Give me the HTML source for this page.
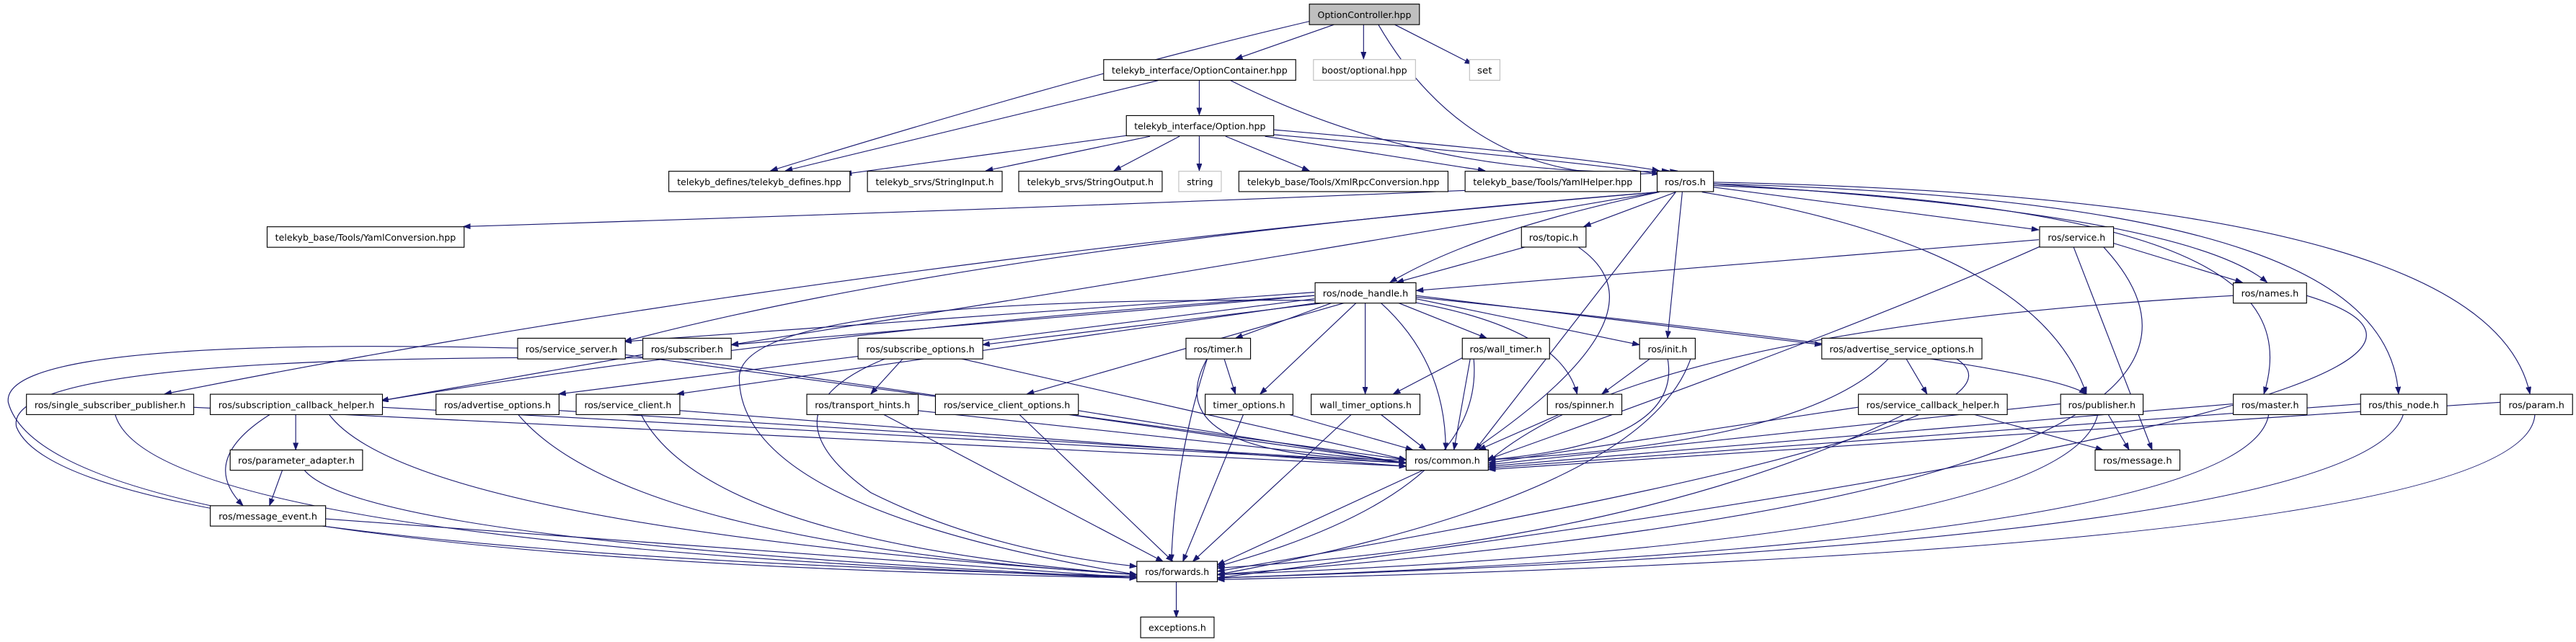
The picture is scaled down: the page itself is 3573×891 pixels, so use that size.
<!DOCTYPE html>
<html><head><meta charset="utf-8"><style>
html,body{margin:0;padding:0;background:#fff;}
svg{display:block;}
text{font-family:"DejaVu Sans","Liberation Sans",sans-serif;font-size:5.6px;fill:#000;}
.e{fill:none;stroke:#191970;stroke-width:0.5;marker-end:url(#a);}
.n{fill:#fff;stroke:#000;stroke-width:0.5;}
.g{fill:#fff;stroke:#bfbfbf;stroke-width:0.5;}
</style></head><body>
<svg width="3573" height="891" viewBox="0 0 1568 391" preserveAspectRatio="none" xmlns="http://www.w3.org/2000/svg">
<defs><marker id="a" markerUnits="userSpaceOnUse" markerWidth="5" markerHeight="4" refX="4.4" refY="1.6" orient="auto"><path d="M0,0 L4.4,1.6 L0,3.2 z" fill="#191970" stroke="#191970" stroke-width="0.3"/></marker></defs>
<g>
<path class="e" d="M812,15 L752,36"/>
<path class="e" d="M830,15 L830,36"/>
<path class="e" d="M849,15 L896,39"/>
<path class="e" d="M839,15 Q900,120 1021,104"/>
<path class="e" d="M797,13 Q660,45 469,104"/>
<path class="e" d="M730,49 L730,70"/>
<path class="e" d="M705,49 L478,104"/>
<path class="e" d="M749,49 Q870,110 1016,104"/>
<path class="e" d="M690,82 L514,106"/>
<path class="e" d="M700,83 L600,104"/>
<path class="e" d="M718,83 L678,104"/>
<path class="e" d="M730,83 L730,104"/>
<path class="e" d="M746,83 L797,104"/>
<path class="e" d="M770,83 L904,104"/>
<path class="e" d="M775,79 Q960,95 1010,104"/>
<path class="e" d="M775,82 Q960,98 1010,106"/>
<path class="e" d="M892,116 Q600,128 282,138"/>
<path class="e" d="M1020,117 L964,138"/>
<path class="e" d="M1010,117 Q900,140 846,172"/>
<path class="e" d="M1043,114 L1241,140"/>
<path class="e" d="M1043,112 Q1330,130 1380,172"/>
<path class="e" d="M1024,117 L1015,206"/>
<path class="e" d="M1020,117 L898,274"/>
<path class="e" d="M1036,117 Q1240,150 1270,240"/>
<path class="e" d="M1043,113 C1330,125 1400,170 1378,240"/>
<path class="e" d="M1043,112 C1360,120 1455,170 1460,240"/>
<path class="e" d="M1043,111 C1400,118 1525,170 1540,240"/>
<path class="e" d="M1009,117 Q600,150 380,208"/>
<path class="e" d="M1009,117 Q700,170 445,210"/>
<path class="e" d="M1009,117 Q500,160 100,240"/>
<path class="e" d="M930,150 L850,172"/>
<path class="e" d="M960,150 Q1020,190 897,274"/>
<path class="e" d="M1241,146 L862,177"/>
<path class="e" d="M1286,148 L1365,172"/>
<path class="e" d="M1242,150 Q1130,200 905,280"/>
<path class="e" d="M1280,150 Q1420,300 741,350"/>
<path class="e" d="M1262,150 L1310,274"/>
<path class="e" d="M1360,180 Q1000,200 906,281"/>
<path class="e" d="M1404,180 Q1600,240 741,352"/>
<path class="e" d="M800,178 L380,208"/>
<path class="e" d="M800,180 L445,210"/>
<path class="e" d="M810,184 L598,210"/>
<path class="e" d="M812,184 L752,206"/>
<path class="e" d="M850,184 L905,206"/>
<path class="e" d="M862,182 L998,210"/>
<path class="e" d="M862,180 L1109,210"/>
<path class="e" d="M862,181 Q1240,220 1270,240"/>
<path class="e" d="M800,180 Q500,200 232,244"/>
<path class="e" d="M800,182 L340,240"/>
<path class="e" d="M805,184 L412,240"/>
<path class="e" d="M820,184 L625,240"/>
<path class="e" d="M826,184 L767,240"/>
<path class="e" d="M831,184 L831,240"/>
<path class="e" d="M860,184 Q950,200 960,240"/>
<path class="e" d="M840,184 Q880,220 880,274"/>
<path class="e" d="M800,183 Q450,180 450,230 Q450,310 692,350"/>
<path class="e" d="M380,216 L856,280"/>
<path class="e" d="M315,212 Q0,205 5,245 Q30,340 692,352"/>
<path class="e" d="M410,218 L856,282"/>
<path class="e" d="M391,216 L232,244"/>
<path class="e" d="M391,218 Q0,215 10,260 Q40,335 692,351"/>
<path class="e" d="M550,218 L530,240"/>
<path class="e" d="M583,218 L856,280"/>
<path class="e" d="M540,218 Q460,250 530,300 Q600,335 692,345"/>
<path class="e" d="M745,218 L752,240"/>
<path class="e" d="M735,218 Q700,280 856,280"/>
<path class="e" d="M735,218 Q715,280 713,342"/>
<path class="e" d="M890,218 L848,240"/>
<path class="e" d="M895,218 L885,274"/>
<path class="e" d="M897,218 Q905,300 741,345"/>
<path class="e" d="M1005,218 L975,240"/>
<path class="e" d="M1015,218 Q1025,270 906,280"/>
<path class="e" d="M1031,212 Q1010,300 741,350"/>
<path class="e" d="M1160,218 L1173,240"/>
<path class="e" d="M1150,218 Q1100,270 906,280"/>
<path class="e" d="M1190,218 Q1260,260 741,348"/>
<path class="e" d="M117,248 L856,284"/>
<path class="e" d="M70,252 Q90,330 692,352"/>
<path class="e" d="M180,252 L180,274"/>
<path class="e" d="M165,252 Q120,280 148,308"/>
<path class="e" d="M232,248 L856,282"/>
<path class="e" d="M200,252 Q250,320 692,350"/>
<path class="e" d="M340,250 L856,282"/>
<path class="e" d="M315,252 Q380,330 692,350"/>
<path class="e" d="M413,250 L856,284"/>
<path class="e" d="M390,252 Q430,330 692,350"/>
<path class="e" d="M558,250 L856,282"/>
<path class="e" d="M537,252 L708,342"/>
<path class="e" d="M656,250 L856,282"/>
<path class="e" d="M620,252 L714,342"/>
<path class="e" d="M783,252 L860,274"/>
<path class="e" d="M757,252 L720,342"/>
<path class="e" d="M840,252 L868,274"/>
<path class="e" d="M823,252 L726,342"/>
<path class="e" d="M950,252 L900,274"/>
<path class="e" d="M1131,248 L906,282"/>
<path class="e" d="M1200,252 L1280,274"/>
<path class="e" d="M1160,252 Q1000,330 741,346"/>
<path class="e" d="M1254,246 L906,283"/>
<path class="e" d="M1283,252 L1296,274"/>
<path class="e" d="M1277,252 Q1260,330 741,350"/>
<path class="e" d="M1359,246 L906,284"/>
<path class="e" d="M1381,252 Q1370,330 741,352"/>
<path class="e" d="M1437,246 L906,285"/>
<path class="e" d="M1463,252 Q1440,330 741,352"/>
<path class="e" d="M1522,245 L906,286"/>
<path class="e" d="M1543,252 Q1540,335 741,353"/>
<path class="e" d="M172,286 L164,308"/>
<path class="e" d="M185,286 Q220,330 692,352"/>
<path class="e" d="M198,316 L692,352"/>
<path class="e" d="M867,286 L741,344"/>
<path class="e" d="M716,354 L716,376"/>
</g>
<g>
<rect x="797" y="2.5" width="67" height="12.5" fill="#bfbfbf" stroke="#000" stroke-width="0.5"/><text x="830.5" y="11" text-anchor="middle" textLength="57" lengthAdjust="spacingAndGlyphs">OptionController.hpp</text>
<rect class="n" x="671.8" y="36.3" width="116.9" height="12.6"/><text x="730.2" y="44.8" text-anchor="middle" textLength="107" lengthAdjust="spacingAndGlyphs">telekyb_interface/OptionContainer.hpp</text>
<rect class="g" x="799.5" y="36.3" width="62.1" height="12.6"/><text x="830.5" y="44.8" text-anchor="middle" textLength="52" lengthAdjust="spacingAndGlyphs">boost/optional.hpp</text>
<rect class="g" x="894.5" y="36.3" width="18.5" height="12.6"/><text x="903.7" y="44.8" text-anchor="middle" textLength="9" lengthAdjust="spacingAndGlyphs">set</text>
<rect class="n" x="685.6" y="70.4" width="89.7" height="12.3"/><text x="730.4" y="78.8" text-anchor="middle" textLength="80" lengthAdjust="spacingAndGlyphs">telekyb_interface/Option.hpp</text>
<rect class="n" x="407.1" y="104.3" width="110.2" height="12.4"/><text x="462.2" y="112.7" text-anchor="middle" textLength="100" lengthAdjust="spacingAndGlyphs">telekyb_defines/telekyb_defines.hpp</text>
<rect class="n" x="528" y="104.3" width="82" height="12.4"/><text x="569" y="112.7" text-anchor="middle" textLength="72" lengthAdjust="spacingAndGlyphs">telekyb_srvs/StringInput.h</text>
<rect class="n" x="620.1" y="104.3" width="87.3" height="12.4"/><text x="663.7" y="112.7" text-anchor="middle" textLength="77" lengthAdjust="spacingAndGlyphs">telekyb_srvs/StringOutput.h</text>
<rect class="g" x="717.5" y="104.3" width="25.9" height="12.4"/><text x="730.4" y="112.7" text-anchor="middle" textLength="16" lengthAdjust="spacingAndGlyphs">string</text>
<rect class="n" x="754.1" y="104.3" width="127.3" height="12.4"/><text x="817.7" y="112.7" text-anchor="middle" textLength="117" lengthAdjust="spacingAndGlyphs">telekyb_base/Tools/XmlRpcConversion.hpp</text>
<rect class="n" x="891.8" y="104.3" width="106.8" height="12.4"/><text x="945.2" y="112.7" text-anchor="middle" textLength="97" lengthAdjust="spacingAndGlyphs">telekyb_base/Tools/YamlHelper.hpp</text>
<rect class="n" x="1008.7" y="104.3" width="34.3" height="12.4"/><text x="1025.8" y="112.7" text-anchor="middle" textLength="25" lengthAdjust="spacingAndGlyphs">ros/ros.h</text>
<rect class="n" x="162.6" y="138.1" width="119.9" height="12.5"/><text x="222.5" y="146.6" text-anchor="middle" textLength="110" lengthAdjust="spacingAndGlyphs">telekyb_base/Tools/YamlConversion.hpp</text>
<rect class="n" x="926.1" y="138.2" width="39.3" height="12.3"/><text x="945.7" y="146.6" text-anchor="middle" textLength="30" lengthAdjust="spacingAndGlyphs">ros/topic.h</text>
<rect class="n" x="1241.5" y="138.1" width="45" height="12.4"/><text x="1264" y="146.6" text-anchor="middle" textLength="35" lengthAdjust="spacingAndGlyphs">ros/service.h</text>
<rect class="n" x="800.5" y="172.2" width="61.4" height="12.4"/><text x="831.2" y="180.6" text-anchor="middle" textLength="52" lengthAdjust="spacingAndGlyphs">ros/node_handle.h</text>
<rect class="n" x="1359.4" y="172.3" width="44.6" height="12.3"/><text x="1381.7" y="180.6" text-anchor="middle" textLength="35" lengthAdjust="spacingAndGlyphs">ros/names.h</text>

<rect class="n" x="315.1" y="206" width="65.5" height="12.6"/><text x="347.8" y="214.5" text-anchor="middle" textLength="56" lengthAdjust="spacingAndGlyphs">ros/service_server.h</text>
<rect class="n" x="391.3" y="206" width="53.8" height="12.6"/><text x="418.2" y="214.5" text-anchor="middle" textLength="44" lengthAdjust="spacingAndGlyphs">ros/subscriber.h</text>
<rect class="n" x="522.3" y="206" width="75.9" height="12.6"/><text x="560.2" y="214.5" text-anchor="middle" textLength="66" lengthAdjust="spacingAndGlyphs">ros/subscribe_options.h</text>
<rect class="n" x="721.9" y="206" width="39.3" height="12.6"/><text x="741.5" y="214.5" text-anchor="middle" textLength="30" lengthAdjust="spacingAndGlyphs">ros/timer.h</text>
<rect class="n" x="890.1" y="206" width="53.1" height="12.6"/><text x="916.6" y="214.5" text-anchor="middle" textLength="44" lengthAdjust="spacingAndGlyphs">ros/wall_timer.h</text>
<rect class="n" x="998" y="206" width="33.9" height="12.6"/><text x="1015" y="214.5" text-anchor="middle" textLength="24" lengthAdjust="spacingAndGlyphs">ros/init.h</text>
<rect class="n" x="1108.9" y="206" width="97.5" height="12.6"/><text x="1157.6" y="214.5" text-anchor="middle" textLength="88" lengthAdjust="spacingAndGlyphs">ros/advertise_service_options.h</text>

<rect class="n" x="16.1" y="240.1" width="101.8" height="12.4"/><text x="67" y="248.5" text-anchor="middle" textLength="92" lengthAdjust="spacingAndGlyphs">ros/single_subscriber_publisher.h</text>
<rect class="n" x="128" y="240.1" width="104.8" height="12.4"/><text x="180.4" y="248.5" text-anchor="middle" textLength="95" lengthAdjust="spacingAndGlyphs">ros/subscription_callback_helper.h</text>
<rect class="n" x="265.4" y="240.1" width="74.9" height="12.4"/><text x="302.8" y="248.5" text-anchor="middle" textLength="65" lengthAdjust="spacingAndGlyphs">ros/advertise_options.h</text>
<rect class="n" x="350.7" y="240.1" width="63.1" height="12.4"/><text x="382.2" y="248.5" text-anchor="middle" textLength="53" lengthAdjust="spacingAndGlyphs">ros/service_client.h</text>
<rect class="n" x="491.1" y="240.1" width="67.8" height="12.4"/><text x="525" y="248.5" text-anchor="middle" textLength="58" lengthAdjust="spacingAndGlyphs">ros/transport_hints.h</text>
<rect class="n" x="569.4" y="240.1" width="87" height="12.4"/><text x="612.9" y="248.5" text-anchor="middle" textLength="77" lengthAdjust="spacingAndGlyphs">ros/service_client_options.h</text>
<rect class="n" x="733.6" y="240.1" width="53.4" height="12.4"/><text x="760.3" y="248.5" text-anchor="middle" textLength="44" lengthAdjust="spacingAndGlyphs">timer_options.h</text>
<rect class="n" x="798.1" y="240.1" width="66.2" height="12.4"/><text x="831.2" y="248.5" text-anchor="middle" textLength="56" lengthAdjust="spacingAndGlyphs">wall_timer_options.h</text>
<rect class="n" x="941.9" y="240.1" width="45.3" height="12.4"/><text x="964.5" y="248.5" text-anchor="middle" textLength="36" lengthAdjust="spacingAndGlyphs">ros/spinner.h</text>
<rect class="n" x="1131.2" y="240.1" width="90.6" height="12.4"/><text x="1176.5" y="248.5" text-anchor="middle" textLength="81" lengthAdjust="spacingAndGlyphs">ros/service_callback_helper.h</text>
<rect class="n" x="1254.3" y="240.1" width="50.2" height="12.4"/><text x="1279.4" y="248.5" text-anchor="middle" textLength="41" lengthAdjust="spacingAndGlyphs">ros/publisher.h</text>
<rect class="n" x="1359.4" y="240.1" width="44.9" height="12.4"/><text x="1381.8" y="248.5" text-anchor="middle" textLength="35" lengthAdjust="spacingAndGlyphs">ros/master.h</text>
<rect class="n" x="1436.9" y="240.1" width="52.5" height="12.4"/><text x="1463.1" y="248.5" text-anchor="middle" textLength="43" lengthAdjust="spacingAndGlyphs">ros/this_node.h</text>
<rect class="n" x="1521.9" y="240.1" width="44" height="12.4"/><text x="1543.9" y="248.5" text-anchor="middle" textLength="34" lengthAdjust="spacingAndGlyphs">ros/param.h</text>

<rect class="n" x="140.1" y="274" width="80.6" height="12.4"/><text x="180.4" y="282.4" text-anchor="middle" textLength="71" lengthAdjust="spacingAndGlyphs">ros/parameter_adapter.h</text>
<rect class="n" x="855.9" y="274" width="50" height="12.4"/><text x="880.9" y="282.4" text-anchor="middle" textLength="40" lengthAdjust="spacingAndGlyphs">ros/common.h</text>
<rect class="n" x="1275.3" y="274" width="51.6" height="12.4"/><text x="1301.1" y="282.4" text-anchor="middle" textLength="42" lengthAdjust="spacingAndGlyphs">ros/message.h</text>
<rect class="n" x="128" y="308" width="70.2" height="12.4"/><text x="163.1" y="316.4" text-anchor="middle" textLength="60" lengthAdjust="spacingAndGlyphs">ros/message_event.h</text>
<rect class="n" x="692" y="341.9" width="49" height="12.4"/><text x="716.5" y="350.3" text-anchor="middle" textLength="39" lengthAdjust="spacingAndGlyphs">ros/forwards.h</text>
<rect class="n" x="694.3" y="375.8" width="44.7" height="12.6"/><text x="716.6" y="384.3" text-anchor="middle" textLength="35" lengthAdjust="spacingAndGlyphs">exceptions.h</text>
</g>
</svg>
</body></html>
